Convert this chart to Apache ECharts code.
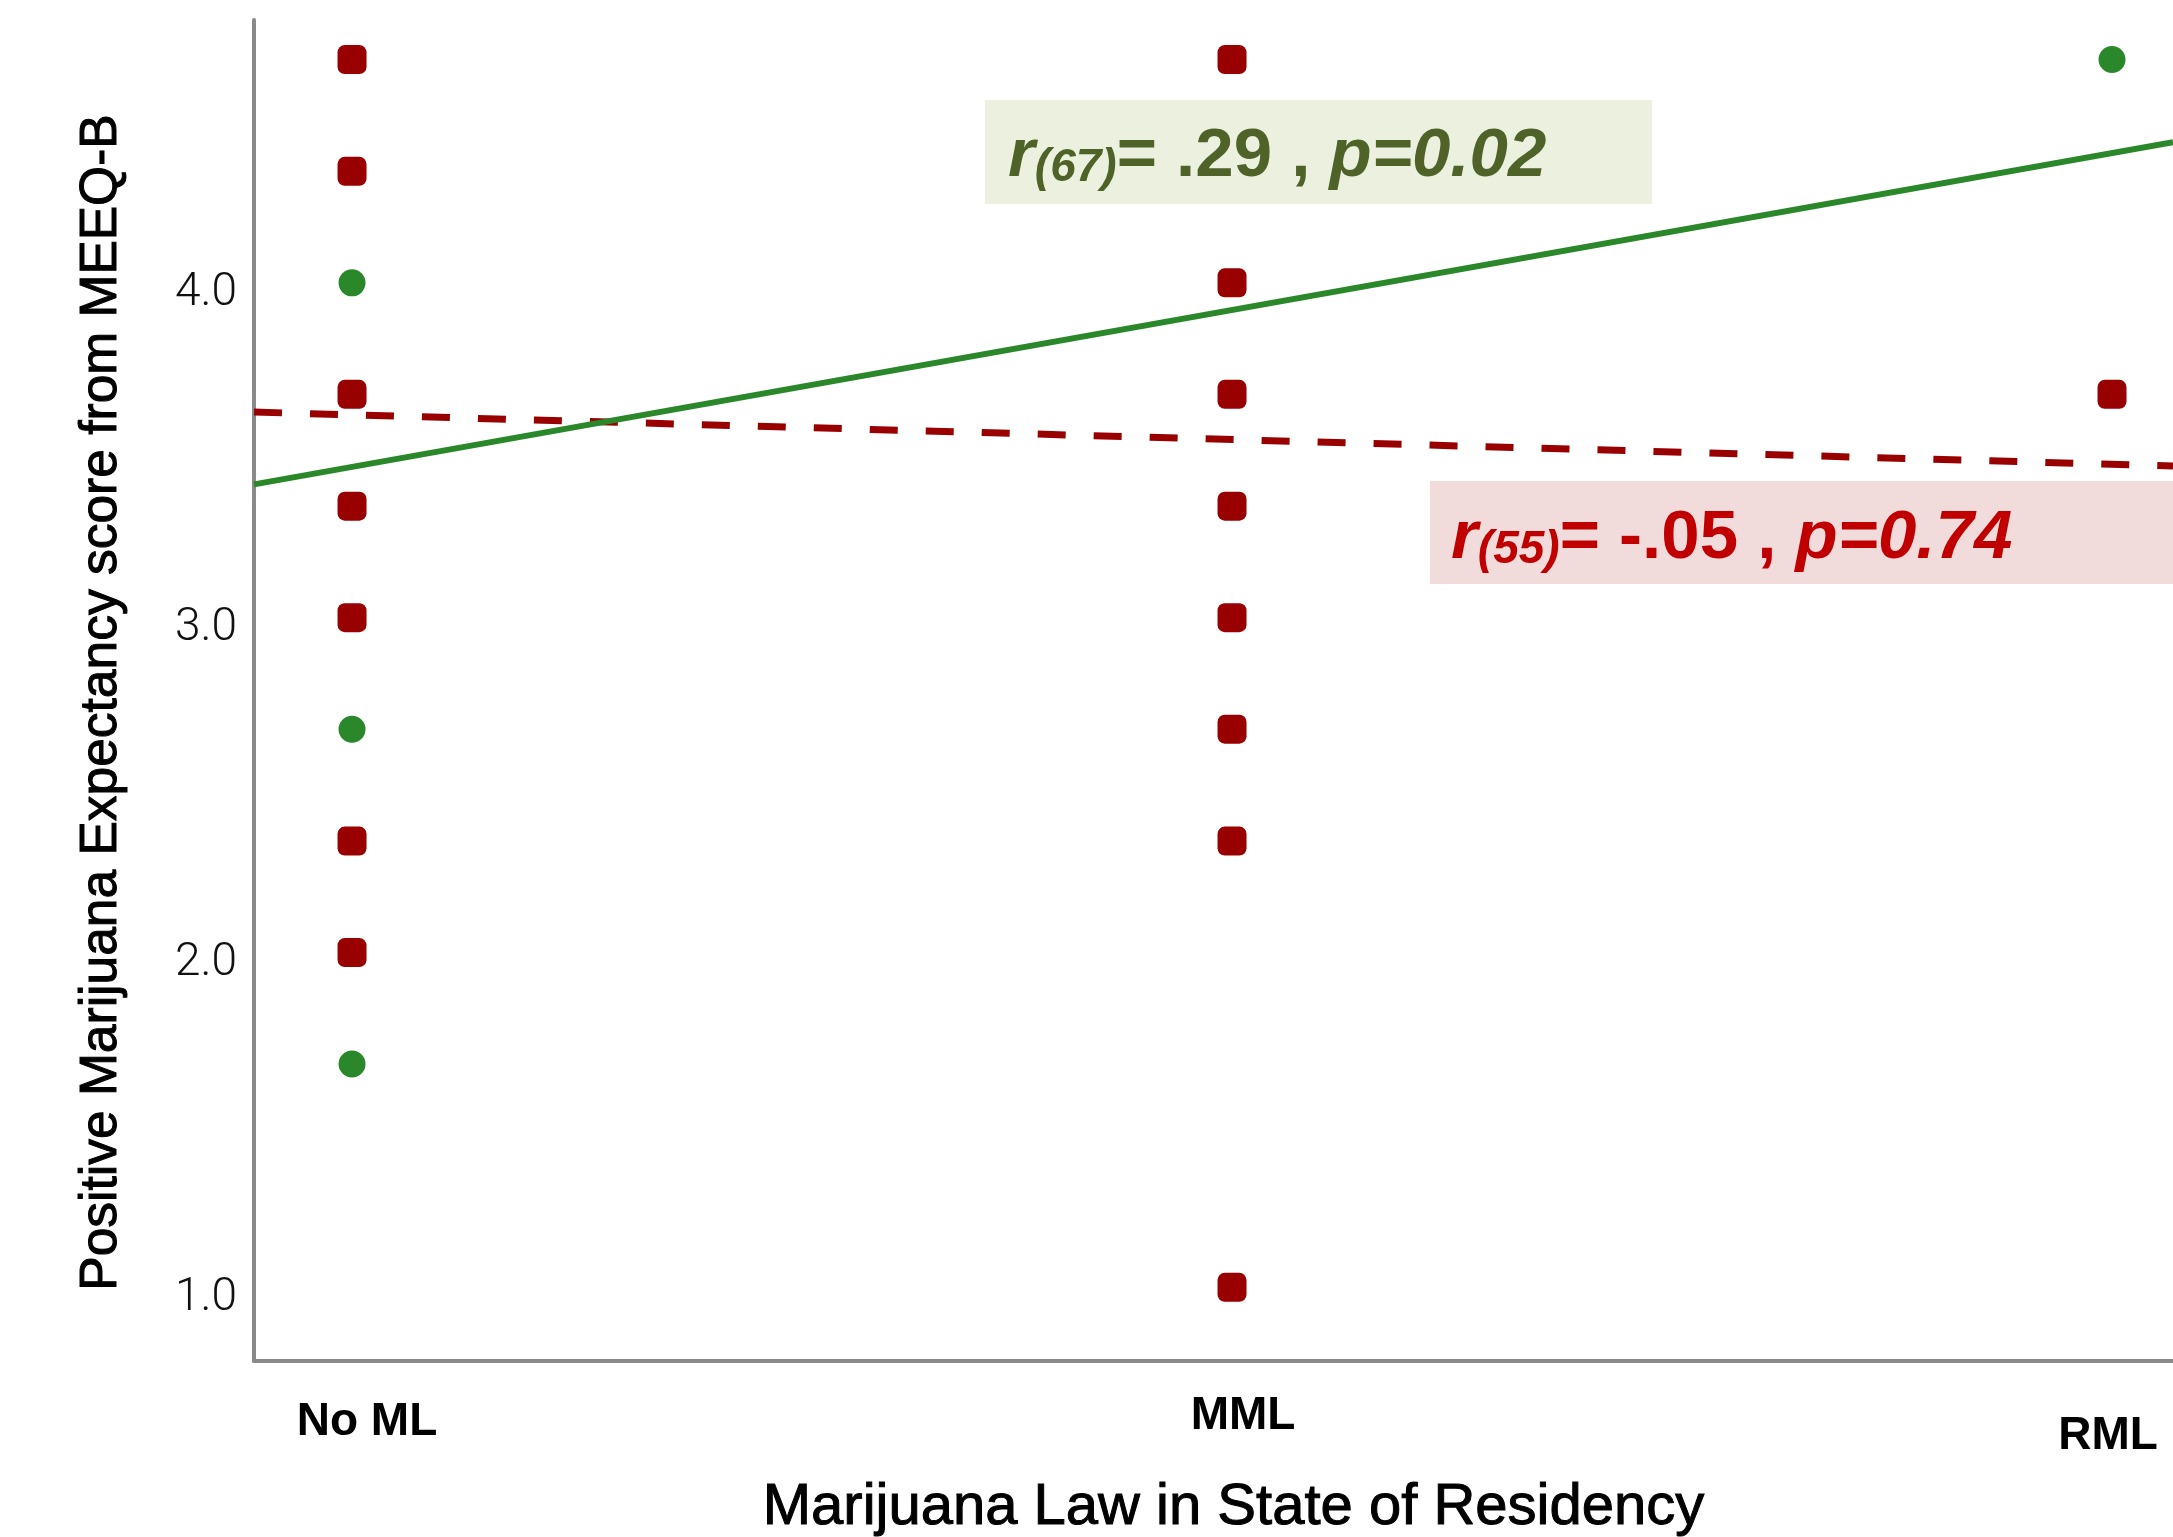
<!DOCTYPE html>
<html>
<head>
<meta charset="utf-8">
<script src="https://cdn.jsdelivr.net/npm/echarts@6/dist/echarts.min.js"></script>
<style>
  html, body { margin: 0; padding: 0; background: #ffffff; }
  #chart { width: 2173px; height: 1537px; }
</style>
</head>
<body>
<div id="chart"></div>
<script>
// Residency groups along the x axis (value axis, one unit per group)
const categories = ['No ML', 'MML', 'RML'];
const yTicks = [1, 2, 3, 4];
const xRange = [-0.1114, 2.0693];
const yRange = [0.78, 4.785];

// MEEQ-B scores, [group index, score]
const greenPoints = [[0, 4.0], [0, 2.667], [0, 1.667], [2, 4.667]];
const redPoints = [
  [0, 4.667], [0, 4.333], [0, 3.667], [0, 3.333], [0, 3.0], [0, 2.333], [0, 2.0],
  [1, 4.667], [1, 4.0], [1, 3.667], [1, 3.333], [1, 3.0], [1, 2.667], [1, 2.333], [1, 1.0],
  [2, 3.667]
];

// Fit lines, evaluated at the two ends of the x range
const greenFit = [[-0.1114, 3.398], [2.0693, 4.42]];
const redFit = [[-0.1114, 3.614], [2.0693, 3.453]];

// Correlation annotations
const greenStat = { n: '(67)', r: '= .29 , ', p: 'p=0.02' };
const redStat = { n: '(55)', r: '= -.05 , ', p: 'p=0.74' };

const FONT = '"Liberation Sans", Arial, sans-serif';
const GREEN = '#2a882a';
const RED = '#990000';

function statRich(color) {
  return {
    ri: { fontSize: 69, fontWeight: 'bold', fontStyle: 'italic', fontFamily: FONT, fill: color, lineHeight: 69, verticalAlign: 'top' },
    sub: { fontSize: 46, fontWeight: 'bold', fontStyle: 'italic', fontFamily: FONT, fill: color, lineHeight: 46, padding: [37, 0, 0, 0], verticalAlign: 'bottom' },
    up: { fontSize: 69, fontWeight: 'bold', fontFamily: FONT, fill: color, lineHeight: 69, verticalAlign: 'top' }
  };
}
function statText(s) {
  return '{ri|r}{sub|' + s.n + '}{up|' + s.r + '}{ri|' + s.p + '}';
}

const chart = echarts.init(document.getElementById('chart'));
chart.setOption({
  animation: false,
  backgroundColor: '#ffffff',
  grid: { left: 254, right: 0, top: 20, bottom: 176, containLabel: false, outerBoundsMode: 'none' },
  xAxis: {
    type: 'value',
    min: xRange[0],
    max: xRange[1],
    name: 'Marijuana Law in State of Residency',
    nameLocation: 'middle',
    nameGap: 118,
    nameTextStyle: { fontSize: 58, fontFamily: FONT, color: '#000', textBorderColor: '#000', textBorderWidth: 1, padding: [0, 0, 0, 40] },
    axisLine: { onZero: false, lineStyle: { color: '#8a8a8a', width: 4 } },
    axisTick: { show: false },
    splitLine: { show: false },
    axisLabel: {
      customValues: [0, 1, 2],
      margin: 32,
      formatter: function (v) {
        const i = Math.round(v);
        return '{c' + i + '|' + categories[i] + '}';
      },
      rich: {
        c0: { fontSize: 46, fontWeight: 'bold', fontFamily: FONT, color: '#000', lineHeight: 46, padding: [13, 0, 0, 30] },
        c1: { fontSize: 46, fontWeight: 'bold', fontFamily: FONT, color: '#000', lineHeight: 46, padding: [0, 0, 0, 22] },
        c2: { fontSize: 46, fontWeight: 'bold', fontFamily: FONT, color: '#000', lineHeight: 46, padding: [40, 8, 0, 0] }
      }
    }
  },
  yAxis: {
    type: 'value',
    min: yRange[0],
    max: yRange[1],
    name: 'Positive Marijuana Expectancy score from MEEQ-B',
    nameLocation: 'middle',
    nameGap: 126,
    nameTextStyle: { fontSize: 51.5, fontFamily: FONT, color: '#000', textBorderColor: '#000', textBorderWidth: 1, padding: [0, 24, 0, 0] },
    axisLine: { show: true, onZero: false, lineStyle: { color: '#8a8a8a', width: 4 } },
    axisTick: { show: false },
    splitLine: { show: false },
    axisLabel: {
      customValues: yTicks,
      margin: 17,
      formatter: function (v) { return '{t|' + v.toFixed(1) + '}'; },
      rich: {
        t: { fontSize: 46, fontFamily: 'Roboto, ' + FONT, fontWeight: 300, color: '#111', lineHeight: 46, padding: [22, 0, 0, 0] }
      }
    }
  },
  graphic: [
    { type: 'rect', z: 1, shape: { x: 985, y: 100, width: 667, height: 104 }, style: { fill: '#ebf0df' } },
    { type: 'text', z: 5, x: 1008, y: 122, style: { text: statText(greenStat), rich: statRich('#4f6228'), align: 'left', verticalAlign: 'top' } },
    { type: 'rect', z: 1, shape: { x: 1430, y: 481, width: 743, height: 103 }, style: { fill: '#f2dcdb' } },
    { type: 'text', z: 5, x: 1451, y: 504, style: { text: statText(redStat), rich: statRich('#c00000'), align: 'left', verticalAlign: 'top' } }
  ],
  series: [
    {
      type: 'line', data: redFit, showSymbol: false, symbol: 'none', z: 2,
      lineStyle: { color: RED, width: 7, type: [28, 28] }
    },
    {
      type: 'line', data: greenFit, showSymbol: false, symbol: 'none', z: 2,
      lineStyle: { color: GREEN, width: 6 }
    },
    {
      type: 'scatter', data: greenPoints, symbol: 'circle', symbolSize: 27, z: 3,
      itemStyle: { color: GREEN, opacity: 1 }
    },
    {
      type: 'scatter', data: redPoints, symbol: 'roundRect', symbolSize: 29, z: 3,
      itemStyle: { color: RED, opacity: 1 }
    }
  ]
});
</script>
</body>
</html>
